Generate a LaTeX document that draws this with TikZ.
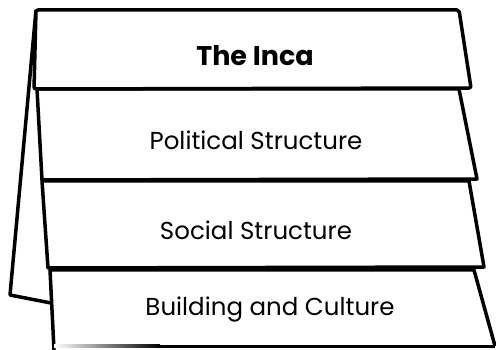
\documentclass[tikz,border=0pt]{standalone}
\usepackage{fontspec}
\setmainfont{Poppins}
\usetikzlibrary{calc}
\definecolor{inkblack}{HTML}{000000}

\begin{document}
\begin{tikzpicture}[x=1pt, y=-1pt, line width=3.5pt, line join=round]
\useasboundingbox (0,0) rectangle (496,350);

% Corners of the panels
\coordinate (t1) at (36,10);   % title panel
\coordinate (t2) at (459,10);
\coordinate (t3) at (471,88);
\coordinate (t4) at (34,89);
\coordinate (p1) at (37,89);   % political panel
\coordinate (p2) at (459,89);
\coordinate (p3) at (477,179);
\coordinate (p4) at (42,180);
\coordinate (s1) at (42,181);  % social panel
\coordinate (s2) at (469,181);
\coordinate (s3) at (484,267);
\coordinate (s4) at (48,268);
\coordinate (b1) at (50,270);  % building panel
\coordinate (b2) at (474,270);
\coordinate (b3) at (495,346);
\coordinate (b4) at (54,350);
\coordinate (f1) at (10,295);  % back flap
\coordinate (f2) at (51,303);

% Back flap
\draw[inkblack] (t1) -- (f1) -- (f2);

% Panels (bottom first)
\fill[white] (b1) -- (b2) -- (b3) -- (b4) -- cycle;
\draw[inkblack] (b4) -- (b1) -- (b2) -- (b3);
\shade[left color=white, right color=inkblack] (54,344.5) rectangle (160,347.5);
\fill[inkblack] (160,344.5) rectangle (495,347.5);
\fill[white] (s1) -- (s2) -- (s3) -- (s4) -- cycle;
\draw[inkblack] (s1) -- (s2) -- (s3) -- (s4) -- cycle;
\fill[white] (p1) -- (p2) -- (p3) -- (p4) -- cycle;
\draw[inkblack] (p1) -- (p2) -- (p3) -- (p4) -- cycle;
\fill[white] (t1) -- (t2) -- (t3) -- (t4) -- cycle;
\draw[inkblack, rounded corners=2pt] (t1) -- (t2) -- (t3) -- (t4) -- cycle;

% Labels
\node[inkblack, font=\fontsize{27}{32}\selectfont\bfseries] (title) at (255,56) {The Inca};
\node[inkblack, font=\fontsize{24.5}{29}\selectfont] (political) at (256,140) {Political Structure};
\node[inkblack, font=\fontsize{24.5}{29}\selectfont] (social) at (256,230) {Social Structure};
\node[inkblack, font=\fontsize{24.5}{29}\selectfont] (building) at (270,309) {Building and Culture};

\end{tikzpicture}
\end{document}
